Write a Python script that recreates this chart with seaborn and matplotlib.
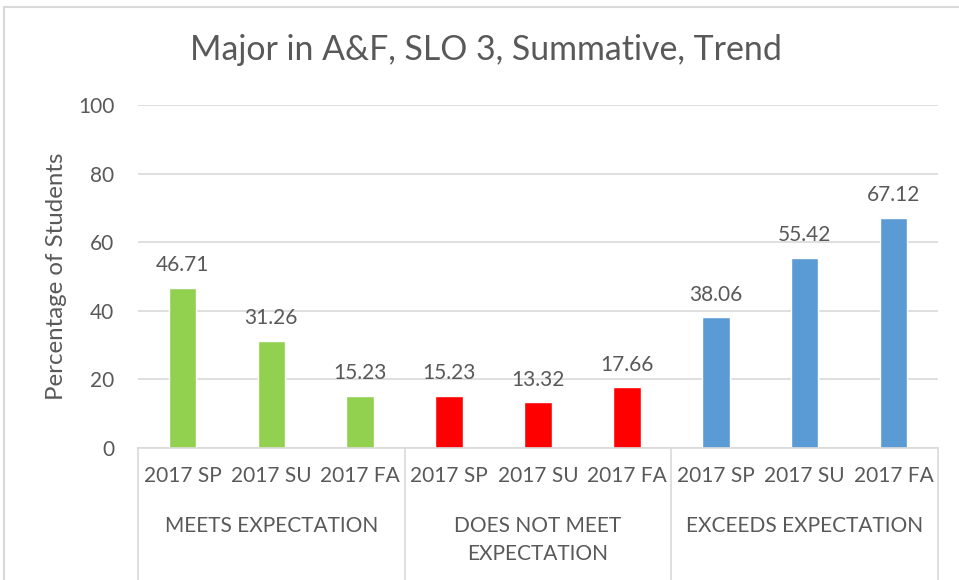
import matplotlib
matplotlib.use("Agg")
import matplotlib.pyplot as plt
import matplotlib.transforms as mtransforms
from matplotlib.patches import Rectangle
import seaborn as sns
import pandas as pd

# ---- data ----
groups = ["MEETS EXPECTATION", "DOES NOT MEET\nEXPECTATION", "EXCEEDS EXPECTATION"]
periods = ["2017 SP", "2017 SU", "2017 FA"]
meets = [46.71, 31.26, 15.23]
not_meet = [15.23, 13.32, 17.66]
exceeds = [38.06, 55.42, 67.12]
group_colors = ["#92D050", "#FF0000", "#5B9BD5"]
title = "Major in A&F, SLO 3, Summative, Trend"
ylabel = "Percentage of Students"
yticks = [0, 20, 40, 60, 80, 100]

rows = []
for g, vals in zip(groups, [meets, not_meet, exceeds]):
    for p, v in zip(periods, vals):
        rows.append({"group": g, "period": p, "slot": g + "|" + p, "value": v})
df = pd.DataFrame(rows)
order = list(df["slot"])

sns.set_theme(style="white")
plt.rcParams["font.family"] = ["Lato", "DejaVu Sans"]
TXT = "#595959"
GRID = "#D9D9D9"

fig = plt.figure(figsize=(9.59, 5.80), dpi=100)
ax = fig.add_axes([138 / 959, 1 - 448 / 580, 800 / 959, 343 / 580])

sns.barplot(data=df, x="slot", y="value", hue="group", order=order,
            hue_order=groups, palette=dict(zip(groups, group_colors)),
            dodge=False, width=0.31, legend=False, ax=ax, saturation=1)

for c in ax.containers:
    ax.bar_label(c, fmt="%.2f", padding=9, fontsize=15, color=TXT)

ax.set_ylim(0, 100)
ax.set_xlim(-0.5, len(order) - 0.5)
ax.set_yticks(yticks)
ax.yaxis.grid(True, color=GRID, linewidth=1.2)
ax.set_axisbelow(True)
for s in ["left", "right", "top"]:
    ax.spines[s].set_visible(False)
ax.spines["bottom"].set_color(GRID)
ax.spines["bottom"].set_linewidth(1.2)
ax.tick_params(axis="y", length=0, pad=17, labelsize=15, labelcolor=TXT)
ax.tick_params(axis="x", length=0, pad=13, labelsize=15, labelcolor=TXT)
ax.set_xticks(range(len(order)))
ax.set_xticklabels(list(df["period"]))
ax.set_xlabel("")
ax.set_ylabel(ylabel, fontsize=17.3, color=TXT, labelpad=8)

trans = mtransforms.blended_transform_factory(ax.transData, ax.transAxes)
for i, g in enumerate(groups):
    ax.text(i * 3 + 1, -0.197, g, transform=trans, ha="center", va="top",
            fontsize=15, color=TXT, linespacing=1.5)
for xb in [-0.5, 2.5, 5.5, 8.5]:
    ax.plot([xb, xb], [0, -0.45], transform=trans, color=GRID, lw=1.2,
            clip_on=False)

fig.text(486 / 959, 1 - 50 / 580, title, ha="center", va="center",
         fontsize=24.4, color=TXT)

fig.patches.append(Rectangle((4 / 959, -0.1), 1.2, 1 - 7 / 580 + 0.1,
                             transform=fig.transFigure, fill=False,
                             edgecolor=GRID, lw=1.5))

fig.savefig("out.png", dpi=100)
